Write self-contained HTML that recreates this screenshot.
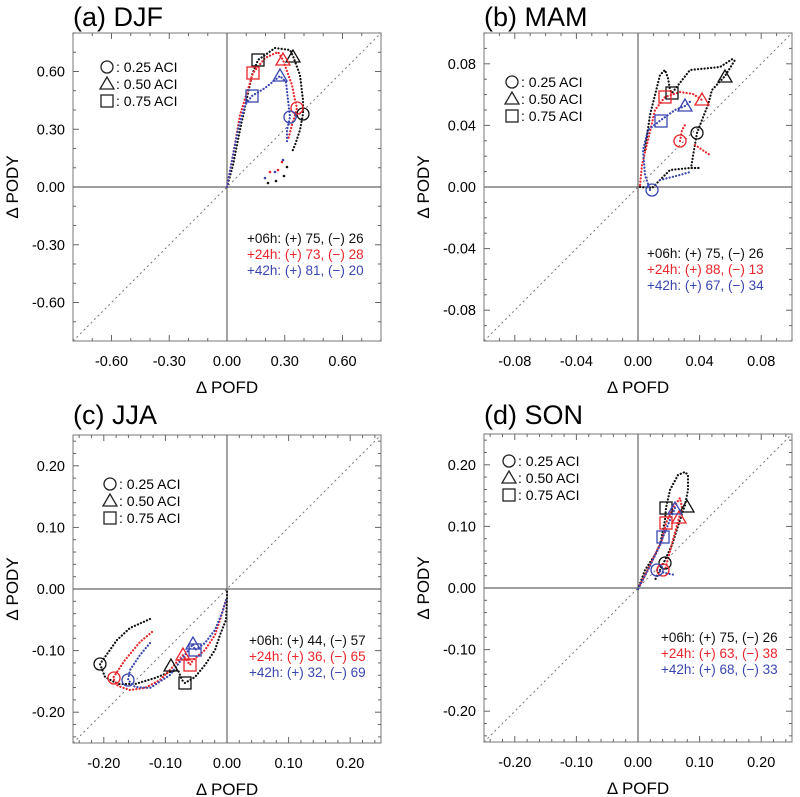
<!DOCTYPE html>
<html><head><meta charset="utf-8"><style>
html,body{margin:0;padding:0;background:#fff;}
svg{display:block;font-family:"Liberation Sans",Arial,sans-serif;}
</style></head><body>
<svg id="s" width="800" height="797" viewBox="0 0 800 797" xmlns="http://www.w3.org/2000/svg"></svg>
<script>
const S=document.getElementById('s');let h='';
const P=[
 {x0:73,y0:33,R:0.8,maj:0.3,min:0.1,dec:2,t:'(a) DJF',ty:26,lab:[0.6,0.3,0,-0.3,-0.6],
  leg:[107,67],st:[247,243],stx:['+06h: (+) 75, (−) 26','+24h: (+) 73, (−) 28','+42h: (+) 81, (−) 20']},
 {x0:484,y0:33,R:0.1,maj:0.04,min:0.01,dec:2,t:'(b) MAM',ty:26,lab:[0.08,0.04,0,-0.04,-0.08],
  leg:[512,82],st:[647,258],stx:['+06h: (+) 75, (−) 26','+24h: (+) 88, (−) 13','+42h: (+) 67, (−) 34']},
 {x0:73,y0:435,R:0.25,maj:0.1,min:0.02,dec:2,t:'(c) JJA',ty:424,lab:[0.2,0.1,0,-0.1,-0.2],
  leg:[110,484],st:[249,645],stx:['+06h: (+) 44, (−) 57','+24h: (+) 36, (−) 65','+42h: (+) 32, (−) 69']},
 {x0:484,y0:434,R:0.25,maj:0.1,min:0.02,dec:2,t:'(d) SON',ty:424,lab:[0.2,0.1,0,-0.1,-0.2],
  leg:[509,461],st:[661,642],stx:['+06h: (+) 75, (−) 26','+24h: (+) 63, (−) 38','+42h: (+) 68, (−) 33']}
];
const W=308,cols=['#111','#e8262b','#3a46b0'];
function fmt(v,d){let s=Math.abs(v).toFixed(d);return (v<-1e-9?'-':'')+s;}
function circ(x,y,c){return `<circle cx="${x}" cy="${y}" r="6" fill="none" stroke="${c}" stroke-width="1.3"/>`;}
function tri(x,y,c){return `<polygon points="${x},${y-7} ${x-7},${y+5} ${x+7},${y+5}" fill="none" stroke="${c}" stroke-width="1.3"/>`;}
function sq(x,y,c){return `<rect x="${x-6}" y="${y-6}" width="12" height="12" fill="none" stroke="${c}" stroke-width="1.3"/>`;}
P.forEach(p=>{
 const {x0,y0,R}=p,sc=W/(2*R),cx=x0+W/2,cy=y0+W/2;
 h+=`<text x="${x0}" y="${p.ty}" font-size="27">${p.t}</text>`;
 h+=`<rect x="${x0}" y="${y0}" width="${W}" height="${W}" fill="none" stroke="#777" stroke-width="1"/>`;
 const n=Math.floor(R/p.min+1e-6);
 for(let i=-n;i<=n;i++){const v=i*p.min;const r=v/p.maj;const isM=Math.abs(r-Math.round(r))<1e-6;const L=isM?6:3;
  const px=cx+v*sc,py=cy-v*sc;
  h+=`<line x1="${px}" y1="${y0}" x2="${px}" y2="${y0+L}" stroke="#666"/><line x1="${px}" y1="${y0+W}" x2="${px}" y2="${y0+W-L}" stroke="#666"/>`;
  h+=`<line x1="${x0}" y1="${py}" x2="${x0+L}" y2="${py}" stroke="#666"/><line x1="${x0+W}" y1="${py}" x2="${x0+W-L}" y2="${py}" stroke="#666"/>`;}
 p.lab.forEach(v=>{
  h+=`<text x="${x0-8}" y="${cy-v*sc+5}" font-size="14.5" text-anchor="end">${fmt(v,p.dec)}</text>`;
  h+=`<text x="${cx+v*sc}" y="${y0+W+25}" font-size="14.5" text-anchor="middle">${fmt(v,p.dec)}</text>`;});
 h+=`<line x1="${cx}" y1="${y0}" x2="${cx}" y2="${y0+W}" stroke="#666" stroke-width="1.2"/>`;
 h+=`<line x1="${x0}" y1="${cy}" x2="${x0+W}" y2="${cy}" stroke="#666" stroke-width="1.2"/>`;
 h+=`<line x1="${x0}" y1="${y0+W}" x2="${x0+W}" y2="${y0}" stroke="#777" stroke-dasharray="2 3"/>`;
 h+=`<text x="${cx}" y="${y0+W+52}" font-size="17" text-anchor="middle">Δ POFD</text>`;
 h+=`<text transform="translate(${x0-55},${cy}) rotate(-90)" font-size="17" text-anchor="middle">Δ PODY</text>`;
 const [lx,ly]=p.leg;
 h+=circ(lx,ly,'#222')+`<text x="${lx+9}" y="${ly+5}" font-size="14"> : 0.25 ACI</text>`;
 h+=tri(lx,ly+17,'#222')+`<text x="${lx+9}" y="${ly+22}" font-size="14"> : 0.50 ACI</text>`;
 h+=sq(lx,ly+34,'#222')+`<text x="${lx+9}" y="${ly+39}" font-size="14"> : 0.75 ACI</text>`;
 p.stx.forEach((t,i)=>{h+=`<text x="${p.st[0]}" y="${p.st[1]+i*16}" font-size="13.5" fill="${cols[i]}">${t}</text>`;});
});
function line(pts,c){h+=`<polyline points="${pts.map(a=>a.join(',')).join(' ')}" fill="none" stroke="${c}" stroke-width="2.2" stroke-dasharray="0.1 3.2" stroke-linecap="round" stroke-linejoin="round"/>`;}
function dots(pts,c){pts.forEach(a=>h+=`<circle cx="${a[0]}" cy="${a[1]}" r="1.3" fill="${c}"/>`);}
const K=cols[0],Rr=cols[1],B=cols[2];
// (a)
line([[227,187],[233,165],[240,130],[252,75],[258,60],[275,48],[290,50],[293,56],[300,75],[303,100],[303,114],[300,130],[295,145],[292,152]],K);
dots([[268,183],[276,181],[284,176],[287,167]],K);
line([[227,187],[233,155],[240,115],[253,73],[265,58],[278,52],[283,60],[292,85],[295,100],[297,108],[292,125],[288,140]],Rr);
dots([[270,172],[278,170],[282,162]],Rr);
line([[227,187],[232,160],[238,130],[245,105],[252,96],[265,88],[280,76],[286,82],[288,100],[290,117],[287,130],[287,143]],B);
dots([[265,178],[275,172],[283,160]],B);
h+=sq(258,60,K)+tri(293,57,K)+circ(303,114,K)+sq(253,73,Rr)+tri(283,60,Rr)+circ(297,108,Rr)+sq(252,96,B)+tri(280,76,B)+circ(290,117,B);
// (b)
line([[640,187],[652,188],[670,170],[690,168],[700,168],[691,168],[694,150],[697,133],[702,120],[708,105],[712,90],[725,76],[735,60]],K);
line([[645,150],[650,115],[660,75],[665,70],[668,78],[670,90],[672,93],[690,70],[720,67],[734,58]],K);
line([[640,185],[642,165],[648,140],[655,110],[665,97],[680,92],[693,94],[702,100]],Rr);
line([[680,141],[682,130],[685,125]],Rr);line([[695,145],[710,155]],Rr);
line([[650,190],[645,175],[643,150],[648,130],[661,120],[675,110],[685,106],[692,100]],B);
line([[660,180],[680,175],[690,172]],B);
h+=sq(672,93,K)+tri(725,77,K)+circ(697,133,K)+sq(665,97,Rr)+tri(702,100,Rr)+circ(680,141,Rr)+sq(661,121,B)+tri(685,106,B)+circ(652,190,B);
// (c)
line([[150,619],[130,628],[117,640],[100,664],[105,677],[118,684],[135,684],[155,678],[170,672],[178,670],[182,680],[185,683],[195,677],[205,665],[215,650],[220,635],[226,620],[227,600],[227,589]],K);
line([[152,632],[140,642],[125,660],[113,678],[118,686],[130,690],[145,688],[160,680],[170,670],[183,655],[190,665],[193,660],[205,650],[215,635],[220,620],[226,600]],Rr);
line([[150,643],[140,655],[130,670],[128,680],[135,687],[150,688],[170,675],[193,644],[195,650],[205,643],[215,630],[222,613],[226,600]],B);
h+=circ(100,664,K)+tri(171,666,K)+sq(185,683,K)+circ(114,678,Rr)+tri(183,655,Rr)+sq(190,665,Rr)+circ(128,680,B)+tri(193,644,B)+sq(195,650,B);
// (d)
line([[638,589],[645,570],[655,555],[660,545],[665,520],[666,508],[670,490],[678,475],[685,472],[688,475],[688,490],[685,505],[680,520],[672,545],[665,560],[655,580]],K);
line([[640,585],[650,565],[662,540],[666,523],[672,510],[680,498],[682,508],[679,518],[673,540],[665,570]],Rr);
line([[638,589],[648,570],[660,545],[663,537],[670,520],[675,508]],B);
line([[657,570],[665,573],[675,575]],B);
h+=sq(666,508,K)+tri(687,507,K)+circ(665,563,K)+sq(666,523,Rr)+tri(679,518,Rr)+circ(663,570,Rr)+sq(663,537,B)+tri(675,509,B)+circ(657,570,B);
S.innerHTML=h;
</script>
</body></html>
